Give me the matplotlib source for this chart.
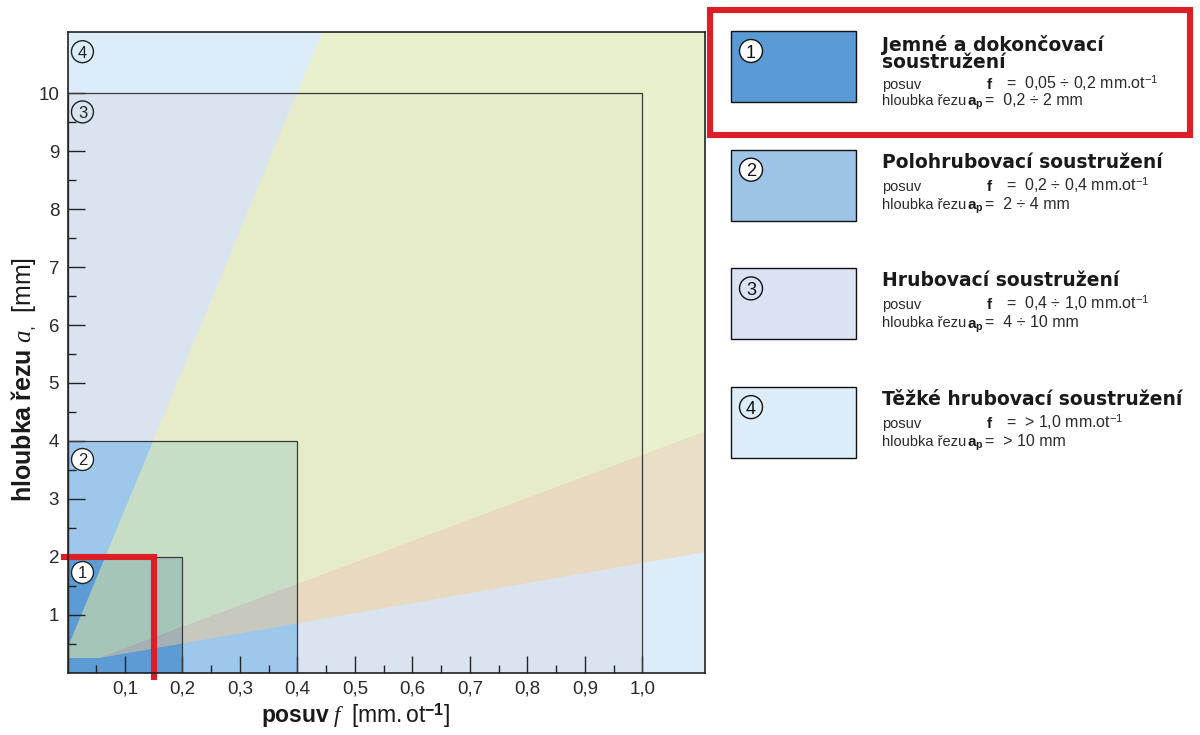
import numpy as np
import matplotlib
matplotlib.use("Agg")
import matplotlib.pyplot as plt
from matplotlib.patches import Rectangle, Polygon, Circle
from matplotlib import font_manager

# ---------------------------------------------------------------------------
# Data: turning regimes, feed f [mm.ot^-1] versus depth of cut a_p [mm]
# ---------------------------------------------------------------------------
regime_numbers = ["1", "2", "3", "4"]
box_feed_max = [0.2, 0.4, 1.0]       # upper feed of regimes 1-3
box_depth_max = [2.0, 4.0, 10.0]     # upper depth of cut of regimes 1-3

# boundaries of the recommended fans (feed, depth)
fan_corner = (0.0, 0.25)
fan_apex = (0.055, 0.25)
upper_edge_f = [0.0, 0.443]
upper_edge_a = [0.42, 11.06]
band_top_f = [0.055, 1.109]
band_top_a = [0.25, 4.16]
band_bottom_f = [0.055, 1.109]
band_bottom_a = [0.25, 2.08]

# highlighted working point
marker_f = 0.15
marker_a = 2.0

x_ticks = [0.1, 0.2, 0.3, 0.4, 0.5, 0.6, 0.7, 0.8, 0.9, 1.0]
x_tick_labels = ["0,1", "0,2", "0,3", "0,4", "0,5", "0,6", "0,7", "0,8", "0,9", "1,0"]
x_minor = [0.05, 0.15, 0.25, 0.35, 0.45, 0.55, 0.65, 0.75, 0.85, 0.95]
y_ticks = [1, 2, 3, 4, 5, 6, 7, 8, 9, 10]
y_tick_labels = ["1", "2", "3", "4", "5", "6", "7", "8", "9", "10"]
y_minor = [0.5, 1.5, 2.5, 3.5, 4.5, 5.5, 6.5, 7.5, 8.5, 9.5]

label_f = 0.026
label_a = [1.74, 3.69, 9.68, 10.72]

legend_titles = ["Jemné a dokončovací\nsoustružení",
                 "Polohrubovací soustružení",
                 "Hrubovací soustružení",
                 "Těžké hrubovací soustružení"]
legend_feeds = ["0,05 ÷ 0,2", "0,2 ÷ 0,4", "0,4 ÷ 1,0", "> 1,0"]
legend_depths = ["0,2 ÷ 2", "2 ÷ 4", "4 ÷ 10", "> 10"]

# ---------------------------------------------------------------------------
# Style
# ---------------------------------------------------------------------------
region_colors = ["#5d9bd5", "#9dc8ec", "#dae4f1", "#dcedf9"]
legend_colors = ["#5b9bd5", "#9dc3e6", "#dae3f3", "#dcedf9"]
circle_fill = ["white", "white", "none", "none"]
green = "#f7f69a"
orange = "#ffcb85"
red = "#dc1f26"
ink = "#222222"

plt.rcParams["font.family"] = ["Liberation Sans", "DejaVu Sans"]
plt.rcParams["mathtext.fontset"] = "custom"
plt.rcParams["mathtext.rm"] = "Liberation Sans"
plt.rcParams["mathtext.bf"] = "Liberation Sans:bold"
plt.rcParams["mathtext.it"] = "Liberation Serif:italic"

installed = {f.name for f in font_manager.fontManager.ttflist}
if "Liberation Sans Narrow" in installed:
    detail_family, detail_size = ["Liberation Sans Narrow", "Liberation Sans"], 12.5
else:
    detail_family, detail_size = ["Liberation Sans", "DejaVu Sans"], 10.5
value_family, value_size = ["Liberation Sans", "DejaVu Sans"], 11.5

W, H = 1200, 735
fig = plt.figure(figsize=(W / 100, H / 100), dpi=100)
fig.patch.set_facecolor("white")

ax_l, ax_r, ax_t, ax_b = 67.5, 705.0, 32.0, 672.5
ax = fig.add_axes([ax_l / W, 1 - ax_b / H, (ax_r - ax_l) / W, (ax_b - ax_t) / H])
ax.set_xlim(0, 1.109)
ax.set_ylim(0, 11.06)
ax.set_facecolor(region_colors[3])

# regime areas, largest first
for i in (2, 1, 0):
    ax.add_patch(Rectangle((0, 0), box_feed_max[i], box_depth_max[i],
                           fc=region_colors[i], ec="none", zorder=1))

xmax, ymax = ax.get_xlim()[1], ax.get_ylim()[1]
green_poly = [fan_corner, fan_apex,
              (band_top_f[1], band_top_a[1]), (xmax, ymax),
              (upper_edge_f[1], upper_edge_a[1]), (upper_edge_f[0], upper_edge_a[0])]
orange_poly = [fan_apex, (band_bottom_f[1], band_bottom_a[1]),
               (band_top_f[1], band_top_a[1])]
ax.add_patch(Polygon(green_poly, closed=True, fc=green, ec="none", alpha=0.47, zorder=1.5))
ax.add_patch(Polygon(orange_poly, closed=True, fc=orange, ec="none", alpha=0.44, zorder=1.5))

# regime outlines
for i in range(3):
    ax.add_patch(Rectangle((0, 0), box_feed_max[i], box_depth_max[i],
                           fill=False, ec="#3a3a3a", lw=0.9, zorder=2))

# circled regime numbers
for i, num in enumerate(regime_numbers):
    ax.scatter([label_f], [label_a[i]], s=250, marker="o",
               facecolors=circle_fill[i], edgecolors=ink, linewidths=1.0,
               zorder=3, clip_on=False)
    ax.text(label_f, label_a[i], num, ha="center", va="center_baseline",
            fontsize=12, color=ink, zorder=3.1)

# highlighted working point
ax.plot([-0.011, marker_f, marker_f], [marker_a, marker_a, -0.13],
        color=red, lw=4.4, solid_joinstyle="miter", solid_capstyle="butt",
        zorder=4, clip_on=False)

# axes, ticks
ax.set_xticks(x_ticks)
ax.set_xticklabels(x_tick_labels)
ax.set_xticks(x_minor, minor=True)
ax.set_yticks(y_ticks)
ax.set_yticklabels(y_tick_labels)
ax.set_yticks(y_minor, minor=True)
ax.tick_params(which="major", direction="in", length=12, width=1.0, color=ink,
               labelsize=13.5, labelcolor="#2a2a2a", pad=6)
ax.tick_params(which="minor", direction="in", length=6, width=1.0, color=ink)
for sp in ax.spines.values():
    sp.set_color(ink)
    sp.set_linewidth(1.2)
    sp.set_zorder(6)

fig.text(356 / W, 1 - 716 / H,
         r"$\mathbf{posuv}\ \mathit{f}\ \ \mathrm{[mm.ot}^{\mathbf{-1}}\mathrm{]}$",
         ha="center", va="center", fontsize=16.5, color="#1a1a1a")
fig.text(24 / W, 1 - 380 / H,
         r"$\mathbf{hloubka\ řezu}\ \mathit{a}_{,}\ \ \mathrm{[mm]}$",
         ha="center", va="center", rotation=90, fontsize=18, color="#1a1a1a")

# ---------------------------------------------------------------------------
# Legend panel (pixel coordinates)
# ---------------------------------------------------------------------------
lg = fig.add_axes([0, 0, 1, 1])
lg.set_xlim(0, W)
lg.set_ylim(H, 0)
lg.axis("off")

box_x, box_w, box_h = 731, 125, 71
top0, step = 31, 118.7
text_x = 882
for i in range(4):
    top = top0 + i * step
    lg.add_patch(Rectangle((box_x, top), box_w, box_h, fc=legend_colors[i],
                           ec="#111111", lw=1.0))
    lg.add_patch(Circle((box_x + 20, top + 20), 11.5, fc=circle_fill[i],
                        ec="#111111", lw=1.0))
    lg.text(box_x + 20, top + 20, regime_numbers[i], ha="center",
            va="center_baseline", fontsize=13, color="#111111")

    lines = legend_titles[i].split("\n")
    if len(lines) == 2:
        title_base = [top + 20, top + 37]
        feed_base, depth_base = top + 58, top + 74
    else:
        title_base = [top + 18]
        feed_base, depth_base = top + 41, top + 59
    for s, yb in zip(lines, title_base):
        lg.text(text_x, yb, s, ha="left", va="baseline", fontsize=13.5,
                fontweight="bold", family="DejaVu Sans", color="#1a1a1a")

    lg.text(text_x, feed_base, "posuv", ha="left", va="baseline",
            fontsize=detail_size, family=detail_family, color="#2a2a2a")
    lg.text(987, feed_base, "f", ha="left", va="baseline", fontsize=11,
            fontweight="bold", color="#1a1a1a")
    lg.text(1006, feed_base, "=  " + legend_feeds[i] + r" mm.ot$^{-1}$",
            ha="left", va="baseline", fontsize=value_size,
            family=value_family, color="#2a2a2a")

    lg.text(text_x, depth_base, "hloubka řezu", ha="left", va="baseline",
            fontsize=detail_size, family=detail_family, color="#2a2a2a")
    lg.text(967, depth_base, r"$\mathbf{a}_\mathbf{p}$", ha="left",
            va="baseline", fontsize=11, color="#1a1a1a")
    lg.text(985, depth_base, "=  " + legend_depths[i] + " mm", ha="left",
            va="baseline", fontsize=value_size, family=value_family,
            color="#2a2a2a")

# emphasis frame around the first regime
lg.add_patch(Rectangle((710, 10), 480, 125, fill=False, ec=red, lw=4.4,
                       joinstyle="miter"))

fig.savefig("out.png", dpi=100, facecolor="white")
